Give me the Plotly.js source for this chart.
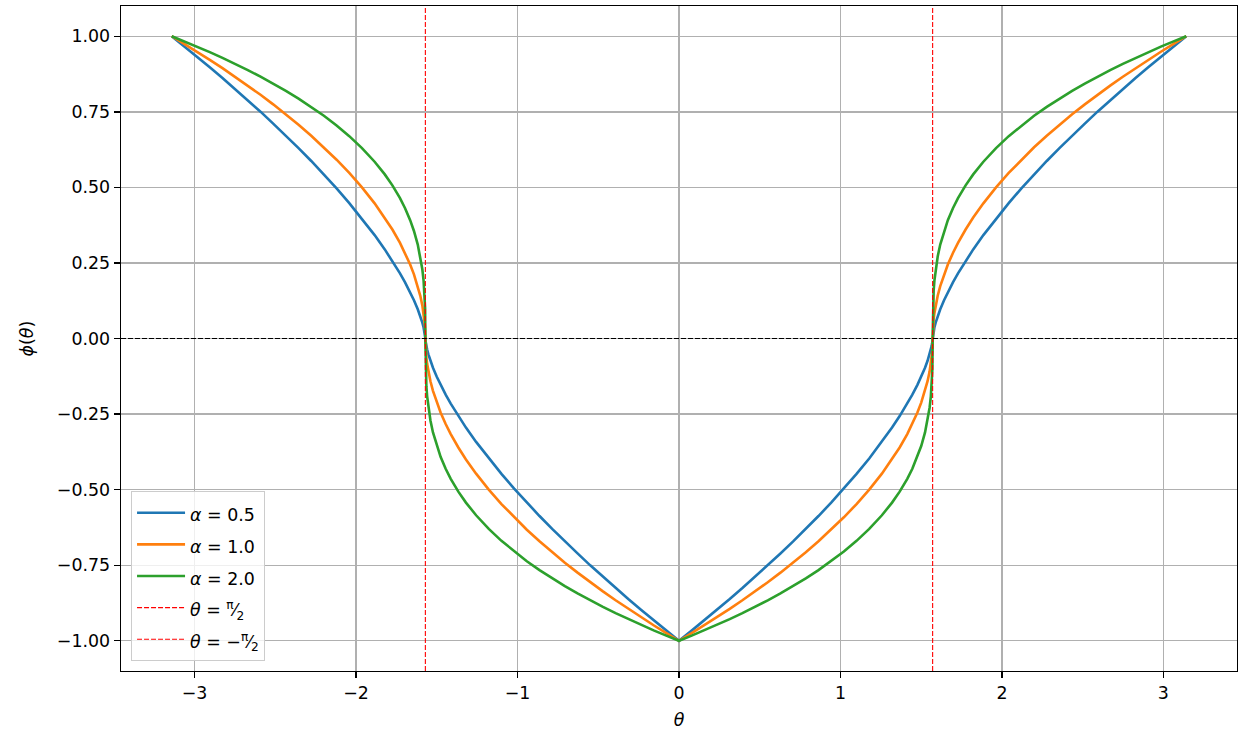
<!DOCTYPE html>
<html>
<head>
<meta charset="utf-8">
<script src="https://cdn.plot.ly/plotly-3.0.1.min.js"></script>
<style>
  html, body { margin: 0; padding: 0; background: #fff; }
  #main-plot { width: 1251px; height: 740px; }
</style>
</head>
<body>
<div id="main-plot"></div>
<script>
  // theta samples from -pi to pi, dense near +-pi/2 where the curves go vertical
  const theta = [
    -3.1416, -3.0631, -2.9845, -2.9060, -2.8274, -2.7489, -2.6704, -2.5918, -2.5133, -2.4347,
    -2.3562, -2.2777, -2.1991, -2.1206, -2.0420, -1.9635, -1.8850, -1.8221, -1.7750, -1.7279,
    -1.6965, -1.6650, -1.6415, -1.6179, -1.6022, -1.5896, -1.5818, -1.5771, -1.5739, -1.5724, -1.5708,
    -1.5692, -1.5677, -1.5645, -1.5598, -1.5520, -1.5394, -1.5237, -1.5001, -1.4766, -1.4451,
    -1.4137, -1.3666, -1.3195, -1.2566, -1.1781, -1.0996, -1.0210, -0.9425, -0.8639, -0.7854,
    -0.7069, -0.6283, -0.5498, -0.4712, -0.3927, -0.3142, -0.2356, -0.1571, -0.0785, 0,
    0.0785, 0.1571, 0.2356, 0.3142, 0.3927, 0.4712, 0.5498, 0.6283, 0.7069, 0.7854,
    0.8639, 0.9425, 1.0210, 1.0996, 1.1781, 1.2566, 1.3195, 1.3666, 1.4137, 1.4451,
    1.4766, 1.5001, 1.5237, 1.5394, 1.5520, 1.5598, 1.5645, 1.5677, 1.5692,
    1.5708, 1.5724, 1.5739, 1.5771, 1.5818, 1.5896, 1.6022, 1.6179, 1.6415, 1.6650,
    1.6965, 1.7279, 1.7750, 1.8221, 1.8850, 1.9635, 2.0420, 2.1206, 2.1991, 2.2777,
    2.3562, 2.4347, 2.5133, 2.5918, 2.6704, 2.7489, 2.8274, 2.9060, 2.9845, 3.0631, 3.1416
  ];

  // alpha = 0.5
  const phiAlpha05 = [
    1, 0.9664, 0.932, 0.8973, 0.862, 0.8255, 0.788, 0.7504, 0.711, 0.6713,
    0.630, 0.5873, 0.543, 0.4966, 0.448, 0.3969, 0.342, 0.2947, 0.2566, 0.2154,
    0.1857, 0.1533, 0.1265, 0.0965, 0.0737, 0.0524, 0.0366, 0.0252, 0.0159, 0.01, 0,
    -0.01, -0.0159, -0.0252, -0.0366, -0.0524, -0.0737, -0.0965, -0.1265, -0.1533, -0.1857,
    -0.2154, -0.2566, -0.2947, -0.342, -0.3969, -0.448, -0.4966, -0.543, -0.5873, -0.630,
    -0.6713, -0.711, -0.7504, -0.788, -0.8255, -0.862, -0.8973, -0.932, -0.9664, -1,
    -0.9664, -0.932, -0.8973, -0.862, -0.8255, -0.788, -0.7504, -0.711, -0.6713, -0.630,
    -0.5873, -0.543, -0.4966, -0.448, -0.3969, -0.342, -0.2947, -0.2566, -0.2154, -0.1857,
    -0.1533, -0.1265, -0.0965, -0.0737, -0.0524, -0.0366, -0.0252, -0.0159, -0.01,
    0, 0.01, 0.0159, 0.0252, 0.0366, 0.0524, 0.0737, 0.0965, 0.1265, 0.1533,
    0.1857, 0.2154, 0.2566, 0.2947, 0.342, 0.3969, 0.448, 0.4966, 0.543, 0.5873,
    0.630, 0.6713, 0.711, 0.7504, 0.788, 0.8255, 0.862, 0.8973, 0.932, 0.9664, 1
  ];

  // alpha = 1.0
  const phiAlpha10 = [
    1, 0.9747, 0.9487, 0.9220, 0.8944, 0.8660, 0.8367, 0.8062, 0.7746, 0.7416,
    0.7071, 0.6708, 0.6325, 0.5916, 0.5477, 0.5, 0.4472, 0.4, 0.3606, 0.3162,
    0.2828, 0.2449, 0.2121, 0.1732, 0.1414, 0.1095, 0.0837, 0.0632, 0.0447, 0.0316, 0,
    -0.0316, -0.0447, -0.0632, -0.0837, -0.1095, -0.1414, -0.1732, -0.2121, -0.2449, -0.2828,
    -0.3162, -0.3606, -0.4, -0.4472, -0.5, -0.5477, -0.5916, -0.6325, -0.6708, -0.7071,
    -0.7416, -0.7746, -0.8062, -0.8367, -0.8660, -0.8944, -0.9220, -0.9487, -0.9747, -1,
    -0.9747, -0.9487, -0.9220, -0.8944, -0.8660, -0.8367, -0.8062, -0.7746, -0.7416, -0.7071,
    -0.6708, -0.6325, -0.5916, -0.5477, -0.5, -0.4472, -0.4, -0.3606, -0.3162, -0.2828,
    -0.2449, -0.2121, -0.1732, -0.1414, -0.1095, -0.0837, -0.0632, -0.0447, -0.0316,
    0, 0.0316, 0.0447, 0.0632, 0.0837, 0.1095, 0.1414, 0.1732, 0.2121, 0.2449,
    0.2828, 0.3162, 0.3606, 0.4, 0.4472, 0.5, 0.5477, 0.5916, 0.6325, 0.6708,
    0.7071, 0.7416, 0.7746, 0.8062, 0.8367, 0.8660, 0.8944, 0.9220, 0.9487, 0.9747, 1
  ];

  // alpha = 2.0
  const phiAlpha20 = [
    1, 0.9830, 0.9655, 0.9473, 0.9283, 0.9086, 0.8879, 0.8662, 0.8434, 0.8193,
    0.7937, 0.7663, 0.7368, 0.7047, 0.6694, 0.6300, 0.5848, 0.5429, 0.5066, 0.4642,
    0.4309, 0.3915, 0.3557, 0.3107, 0.2714, 0.2289, 0.1913, 0.1587, 0.1260, 0.1, 0,
    -0.1, -0.1260, -0.1587, -0.1913, -0.2289, -0.2714, -0.3107, -0.3557, -0.3915, -0.4309,
    -0.4642, -0.5066, -0.5429, -0.5848, -0.6300, -0.6694, -0.7047, -0.7368, -0.7663, -0.7937,
    -0.8193, -0.8434, -0.8662, -0.8879, -0.9086, -0.9283, -0.9473, -0.9655, -0.9830, -1,
    -0.9830, -0.9655, -0.9473, -0.9283, -0.9086, -0.8879, -0.8662, -0.8434, -0.8193, -0.7937,
    -0.7663, -0.7368, -0.7047, -0.6694, -0.6300, -0.5848, -0.5429, -0.5066, -0.4642, -0.4309,
    -0.3915, -0.3557, -0.3107, -0.2714, -0.2289, -0.1913, -0.1587, -0.1260, -0.1,
    0, 0.1, 0.1260, 0.1587, 0.1913, 0.2289, 0.2714, 0.3107, 0.3557, 0.3915,
    0.4309, 0.4642, 0.5066, 0.5429, 0.5848, 0.6300, 0.6694, 0.7047, 0.7368, 0.7663,
    0.7937, 0.8193, 0.8434, 0.8662, 0.8879, 0.9086, 0.9283, 0.9473, 0.9655, 0.9830, 1
  ];

  const alphaLabels = ["0.5", "1.0", "2.0"];
  const vlineTheta = [1.5708, -1.5708];
  const vlineLabels = [
    "<i>θ</i> = <sup>π</sup>⁄<sub>2</sub>",
    "<i>θ</i> = −<sup>π</sup>⁄<sub>2</sub>"
  ];
  const xTicks = [-3, -2, -1, 0, 1, 2, 3];
  const yTicks = [-1, -0.75, -0.5, -0.25, 0, 0.25, 0.5, 0.75, 1];
  const yRange = [-1.1, 1.1];
  const xRange = [-3.4558, 3.4558];

  const curveColors = ['#1f77b4', '#ff7f0e', '#2ca02c'];
  const FONT = '"DejaVu Sans", Arial, sans-serif';

  function legendText(s) {
    return "<span style='font-size:17.4px'>" + s + "</span>";
  }

  var data = [];
  [phiAlpha05, phiAlpha10, phiAlpha20].forEach(function (phi, i) {
    data.push({
      x: theta,
      y: phi,
      mode: "lines",
      name: legendText("<i>α</i> = " + alphaLabels[i]),
      line: { color: curveColors[i], width: 2.6 },
      hoverinfo: "skip"
    });
  });

  vlineTheta.forEach(function (t, i) {
    data.push({
      x: [t, t],
      y: yRange,
      mode: "lines",
      name: legendText(vlineLabels[i]),
      line: { color: 'red', width: 1.1, dash: '5px,2px' },
      hoverinfo: "skip"
    });
  });

  var layout = {
    width: 1251,
    height: 740,
    paper_bgcolor: '#fff',
    plot_bgcolor: '#fff',
    margin: { l: 121, r: 14, t: 6, b: 69 },
    font: { family: FONT, size: 17.4, color: '#000' },
    showlegend: true,
    legend: {
      x: 0.009, y: 0.015, xanchor: 'left', yanchor: 'bottom',
      bgcolor: 'rgba(255,255,255,0.8)',
      bordercolor: '#cccccc', borderwidth: 1,
      font: { family: FONT, size: 22 },
      tracegroupgap: 0,
      itemwidth: 48
    },
    xaxis: {
      range: xRange,
      tickvals: xTicks,
      ticktext: xTicks.map(function (v) { return v < 0 ? '−' + Math.abs(v) : String(v); }),
      ticks: 'outside', ticklen: 6, tickwidth: 1.4, tickcolor: '#000',
      showgrid: true, gridcolor: '#b0b0b0', gridwidth: 1.4,
      zeroline: false,
      showline: true, linecolor: '#000', linewidth: 1.4, mirror: true,
      title: { text: '<i>θ</i>', font: { family: FONT, size: 17.4 }, standoff: 11 }
    },
    yaxis: {
      range: yRange,
      tickvals: yTicks,
      ticktext: yTicks.map(function (v) { return v < 0 ? '−' + Math.abs(v).toFixed(2) : v.toFixed(2); }),
      ticks: 'outside', ticklen: 6, tickwidth: 1.4, tickcolor: '#000',
      showgrid: true, gridcolor: '#b0b0b0', gridwidth: 1.4,
      zeroline: false,
      showline: true, linecolor: '#000', linewidth: 1.4, mirror: true
    },
    annotations: [{
      text: '<i>ϕ</i>(<i>θ</i>)',
      xref: 'paper', yref: 'paper', x: 0, y: 0.5,
      xanchor: 'center', yanchor: 'middle',
      xshift: -95, textangle: -90, showarrow: false,
      font: { family: FONT, size: 17.4, color: '#000' }
    }],
    shapes: [{
      type: 'line', xref: 'paper', yref: 'y',
      x0: 0, x1: 1, y0: 0, y1: 0,
      line: { color: '#000', width: 1.1, dash: '5px,2px' },
      layer: 'above'
    }]
  };

  Plotly.newPlot('main-plot', data, layout, { staticPlot: true });
</script>
</body>
</html>
